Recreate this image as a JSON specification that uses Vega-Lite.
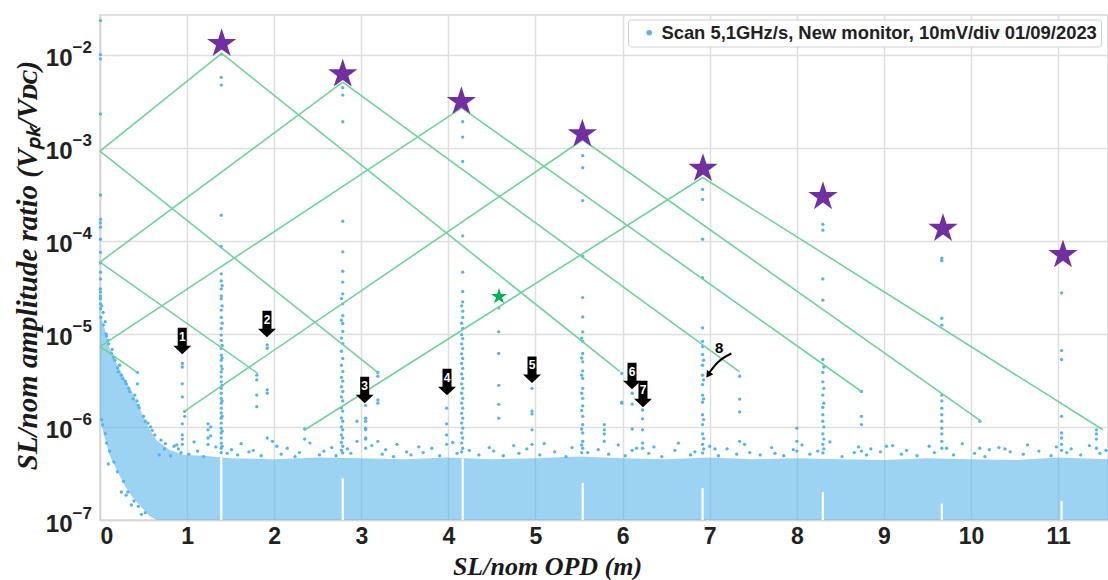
{
"$schema": "https://vega.github.io/schema/vega-lite/v6.json",
"width": 1008, "height": 505,
"autosize": {"type": "none"},
"padding": {"left": 100, "top": 15, "right": 0, "bottom": 60},
"background": "white",
"config": {
  "view": {"stroke": "#d6d6d6", "strokeWidth": 1.5},
  "axis": {"gridColor": "#dedede", "gridWidth": 1.5, "domainColor": "#d6d6d6", "domainWidth": 1.5, "ticks": false,
    "labelFont": "Liberation Sans", "labelFontWeight": "bold", "labelColor": "#222222",
    "titleFont": "Liberation Serif", "titleFontWeight": "bold", "titleFontStyle": "italic", "titleColor": "#1a1a1a", "titleFontSize": 29}
},
"resolve": {"axis": {"y": "independent"}},
"datasets": {
  "band": [
    {"x":0,"y":1.64e-5,"y2":1.24e-6},{"x":0.054,"y":1.14e-5,"y2":7.6e-7},{"x":0.111,"y":6.95e-6,"y2":4.9e-7},
    {"x":0.192,"y":4.81e-6,"y2":3.46e-7},{"x":0.284,"y":3.32e-6,"y2":2.33e-7},{"x":0.375,"y":2.3e-6,"y2":1.74e-7},
    {"x":0.479,"y":1.41e-6,"y2":1.36e-7},{"x":0.571,"y":9.3e-7,"y2":1.1e-7},{"x":0.651,"y":7.2e-7,"y2":1e-7},
    {"x":0.8,"y":5.66e-7,"y2":1e-7},{"x":0.97,"y":5.0e-7,"y2":1e-7},{"x":1.2,"y":4.9e-7,"y2":1e-7},
    {"x":1.5,"y":4.6e-7,"y2":1e-7},{"x":2.0,"y":4.5e-7,"y2":1e-7},{"x":2.5,"y":4.7e-7,"y2":1e-7},
    {"x":3.0,"y":4.6e-7,"y2":1e-7},{"x":3.5,"y":4.5e-7,"y2":1e-7},{"x":4.0,"y":4.7e-7,"y2":1e-7},
    {"x":4.5,"y":4.5e-7,"y2":1e-7},{"x":5.0,"y":4.6e-7,"y2":1e-7},{"x":5.5,"y":4.8e-7,"y2":1e-7},
    {"x":6.0,"y":4.6e-7,"y2":1e-7},{"x":6.5,"y":4.5e-7,"y2":1e-7},{"x":7.0,"y":4.7e-7,"y2":1e-7},
    {"x":7.5,"y":4.5e-7,"y2":1e-7},{"x":8.0,"y":4.6e-7,"y2":1e-7},{"x":8.5,"y":4.5e-7,"y2":1e-7},
    {"x":9.0,"y":4.4e-7,"y2":1e-7},{"x":9.5,"y":4.6e-7,"y2":1e-7},{"x":10.0,"y":4.5e-7,"y2":1e-7},
    {"x":10.5,"y":4.4e-7,"y2":1e-7},{"x":11.0,"y":4.7e-7,"y2":1e-7},{"x":11.573,"y":4.5e-7,"y2":1e-7}
  ],
  "gaps": [
    {"x":1.392,"y":5.3e-7,"y2":1e-7},{"x":2.787,"y":2.8e-7,"y2":1e-7},{"x":4.164,"y":4.6e-7,"y2":1e-7},
    {"x":5.542,"y":2.5e-7,"y2":1e-7},{"x":6.918,"y":2.2e-7,"y2":1e-7},{"x":8.299,"y":2.0e-7,"y2":1e-7},
    {"x":9.665,"y":1.5e-7,"y2":1e-7},{"x":11.04,"y":1.6e-7,"y2":1e-7}
  ],
  "pts": [
    {"x":0.005,"y":[2.32e-2,1.0e-2,9.0e-3,2.3e-3,3.1e-4,1.7e-4,1.55e-4,1.4e-4,1.04e-4,7.5e-5,5.8e-5,4.6e-5,3.89e-5,3.04e-5,2.82e-5,2.55e-5,2.38e-5,2.1e-5,1.86e-5]},
    {"x":0.02,"y":[2.0e-5,1.2e-6]},{"x":0.035,"y":[1.7e-5]},{"x":0.06,"y":[1.35e-5]},{"x":0.075,"y":[9.5e-6,6.7e-7]},
    {"x":0.095,"y":[8.5e-6,4.0e-7]},{"x":0.13,"y":[6.2e-6]},{"x":0.155,"y":[5.6e-6]},{"x":0.2,"y":[4.3e-6]},
    {"x":0.225,"y":[4.6e-6]},{"x":0.245,"y":[3.6e-6,2.0e-7]},{"x":0.3,"y":[2.9e-6,1.85e-7]},{"x":0.33,"y":[2.6e-6]},
    {"x":0.36,"y":[1.45e-7]},{"x":0.4,"y":[2.2e-6]},{"x":0.425,"y":[1.9e-6]},{"x":0.43,"y":[3.86e-6,2.9e-6]},
    {"x":0.45,"y":[1.6e-6]},{"x":0.475,"y":[1.15e-7]},{"x":0.5,"y":[1.3e-6]},{"x":0.55,"y":[1.1e-6]},
    {"x":0.6,"y":[9.2e-7]},{"x":0.63,"y":[8.2e-7]},{"x":0.7,"y":[7.2e-7]},{"x":0.75,"y":[6.6e-7]},
    {"x":0.85,"y":[6.2e-7]},{"x":0.9,"y":[5.8e-7]},
    {"x":0.945,"y":[4.81e-6,4.4e-6,2.9e-6,2.1e-6,1.08e-6,8.2e-7,7.4e-7,6.5e-7]},{"x":0.972,"y":[1.47e-6,1.3e-6]},
    {"x":1.24,"y":[1.08e-6,9.3e-7,7.6e-7,6.5e-7]},{"x":1.27,"y":[1.0e-6,8.0e-7]},
    {"x":1.392,"y":[1.01e-2,5.7e-3,4.7e-3,1.88e-4,8.7e-5,4.4e-5,3.7e-5,3.04e-5,2.55e-5,2.38e-5,1.8e-5,1.5e-5,1.14e-5,9.7e-6,8.5e-6,6.95e-6,5.9e-6,5.2e-6,4.5e-6,3.9e-6,3.45e-6,3.05e-6,2.6e-6,2.3e-6,2.03e-6,1.8e-6,1.59e-6,1.41e-6,1.24e-6,1.1e-6,9.7e-7,8.6e-7,7.6e-7,6.7e-7,5.9e-7,5.3e-7]},
    {"x":1.402,"y":[3.3e-5,2.0e-5,1.3e-5,7.5e-6,5.5e-6,4.2e-6,2.8e-6,1.9e-6,1.3e-6,9.0e-7,6.2e-7]},
    {"x":1.8,"y":[3.6e-6,3.2e-6,2.2e-6,1.65e-6]},{"x":1.92,"y":[7.6e-6,7.0e-6,2.5e-6,2.3e-6,7.6e-7]},
    {"x":1.98,"y":[7.0e-7]},{"x":2.35,"y":[9.5e-7,7.4e-7]},
    {"x":2.787,"y":[4.4e-3,3.67e-3,1.9e-3,1.62e-4,7.6e-5,4.7e-5,3.6e-5,2.69e-5,2.1e-5,1.57e-5,1.29e-5,1.06e-5,7.86e-6,5.43e-6,3.95e-6,3.1e-6,2.4e-6,1.9e-6,1.48e-6,1.15e-6,9.3e-7,7.6e-7,6.2e-7,5.26e-7]},
    {"x":2.772,"y":[2.4e-5,1.4e-5,9.0e-6,6.5e-6,4.6e-6,3.4e-6,2.7e-6,2.1e-6,1.6e-6,1.25e-6,1.0e-6,8.2e-7,6.8e-7,5.6e-7]},
    {"x":2.95,"y":[1.15e-6,7.0e-7]},{"x":3.05,"y":[1.7e-6,1.24e-6,1.15e-6,9.7e-7,9.3e-7,7.6e-7,7.4e-7,5.9e-7]},
    {"x":3.19,"y":[3.85e-6,3.5e-6,1.95e-6,1.8e-6,7.0e-7]},{"x":3.98,"y":[1.59e-6,1.08e-6,8.2e-7,6.5e-7]},
    {"x":4.164,"y":[1.9e-3,1.3e-3,7.1e-4,1.13e-4,4.6e-5,2.85e-5,2.2e-5,1.75e-5,1.5e-5,1.14e-5,8.9e-6,6.95e-6,5.43e-6,4.25e-6,3.32e-6,2.6e-6,2.03e-6,1.59e-6,1.24e-6,9.7e-7,7.6e-7,5.9e-7]},
    {"x":4.152,"y":[2.0e-5,1.3e-5,9.8e-6,7.8e-6,6.1e-6,4.8e-6,3.7e-6,2.9e-6,2.3e-6,1.8e-6,1.4e-6,1.1e-6,8.6e-7,6.7e-7,5.4e-7]},
    {"x":4.578,"y":[1.9e-5,1.05e-5,6.15e-6,2.8e-6,1.75e-6,1.24e-6]},{"x":4.96,"y":[2.6e-6,1.48e-6,1.38e-6,9.3e-7,6.5e-7]},
    {"x":5.542,"y":[8.2e-4,6.1e-4,2.7e-4,6.8e-5,2.45e-5,1.52e-5,1.05e-5,8.3e-6,6.15e-6,5.0e-6,4.0e-6,3.32e-6,2.6e-6,2.03e-6,1.68e-6,1.3e-6,1.06e-6,8.6e-7,7.0e-7,5.9e-7]},
    {"x":5.53,"y":[9.0e-6,5.5e-6,3.6e-6,2.3e-6,1.5e-6,9.5e-7,6.4e-7,5.3e-7]},
    {"x":5.79,"y":[1.06e-6,9.3e-7,8.4e-7,7.0e-7]},{"x":5.99,"y":[3.76e-6,1.85e-6,1.8e-6]},
    {"x":6.11,"y":[2.3e-6,1.76e-6,9.5e-7,5.6e-7]},{"x":6.23,"y":[1.52e-6,1.22e-6,9.3e-7,6.7e-7,5.9e-7]},
    {"x":6.918,"y":[3.56e-4,2.78e-4,1.04e-4,4.0e-5,1.16e-5,8.3e-6,7.3e-6,6.0e-6,4.6e-6,3.6e-6,2.85e-6,2.2e-6,1.84e-6,1.35e-6,1.06e-6,8.4e-7,6.5e-7,5.26e-7]},
    {"x":6.93,"y":[5.2e-6,3.2e-6,2.0e-6,1.2e-6,7.5e-7,5.8e-7]},
    {"x":7.06,"y":[5.8e-7]},{"x":7.344,"y":[3.5e-6,1.99e-6,1.45e-6,7.0e-7]},{"x":8.0,"y":[9.7e-7,7.0e-7,5.5e-7]},
    {"x":8.299,"y":[1.5e-4,1.3e-4,3.89e-5,2.3e-5,5.3e-6,3.85e-6,3.05e-6,2.2e-6,1.62e-6,1.35e-6,1.15e-6,8.4e-7,6.5e-7,5.26e-7]},
    {"x":8.31,"y":[4.4e-6,2.6e-6,1.8e-6,1.0e-6,7.4e-7,5.8e-7]},
    {"x":8.742,"y":[2.4e-6,1.3e-6,1.06e-6,5.5e-7]},{"x":9.03,"y":[6.2e-7]},
    {"x":9.665,"y":[6.5e-5,6.1e-5,1.47e-5,1.24e-5,2.2e-6,1.9e-6,1.59e-6,1.35e-6,1.15e-6,9.7e-7,8.4e-7,7.0e-7,5.9e-7]},
    {"x":10.1,"y":[1.15e-6,5.9e-7]},{"x":10.39,"y":[5.8e-7]},
    {"x":11.04,"y":[2.75e-5,6.6e-6,5.3e-6,1.3e-6,8.6e-7,7.6e-7,6.5e-7,5.6e-7]},
    {"x":11.44,"y":[9.3e-7,8.4e-7,7.4e-7,5.9e-7]}
  ],
  "fringe": [
    {"x":[0.01,0.04,0.07,0.1,0.14,0.17,0.21,0.26,0.29,0.34,0.38,0.44,0.52,0.58,
          0.03,0.06,0.11,0.16,0.2,0.27,0.32,0.39,0.44,0.52,
          0.68,0.74,0.81,0.88,0.93,1.02,1.08,1.12,1.19,1.33,1.46,1.51,1.58,1.62,1.71,
          1.76,1.85,2.03,2.08,2.15,2.24,2.29,2.41,2.52,2.57,2.66,2.71,2.84,2.88,3.12,
          3.24,3.28,3.37,3.41,3.52,3.57,3.66,3.71,3.81,3.9,4.05,4.1,4.24,4.35,4.47,
          4.52,4.63,4.75,4.81,4.9,5.05,5.1,5.22,5.35,5.42,5.6,5.72,5.84,5.95,6.03,
          6.16,6.3,6.36,6.45,6.6,6.64,6.78,6.83,7.0,7.1,7.2,7.31,7.4,7.46,7.58,
          7.71,7.75,7.85,7.96,8.06,8.15,8.24,8.38,8.52,8.66,8.71,8.8,8.85,8.96,9.1,
          9.2,9.26,9.38,9.52,9.58,9.72,9.8,9.9,10.04,10.16,10.21,10.32,10.45,10.6,10.65,
          10.78,10.92,10.98,11.1,11.15,11.26,11.36,11.48,11.55],
     "y":[1.5e-5,1.25e-5,1.0e-5,7.8e-6,6.8e-6,5.2e-6,3.9e-6,3.3e-6,3.1e-6,2.4e-6,2.0e-6,1.7e-6,1.15e-6,1.0e-6,
          1.05e-6,8.5e-7,5.5e-7,4.2e-7,3.3e-7,2.6e-7,2.0e-7,1.6e-7,1.4e-7,1.2e-7,
          5.0e-7,5.8e-7,4.9e-7,6.4e-7,5.3e-7,5.1e-7,6.9e-7,5.5e-7,4.8e-7,6.1e-7,5.2e-7,5.7e-7,5.0e-7,6.6e-7,5.4e-7,
          5.6e-7,4.9e-7,6.2e-7,5.1e-7,5.9e-7,4.8e-7,5.3e-7,6.7e-7,5.0e-7,5.5e-7,6.0e-7,4.9e-7,5.8e-7,5.2e-7,6.3e-7,
          5.1e-7,5.7e-7,4.8e-7,6.5e-7,5.4e-7,5.0e-7,6.1e-7,5.3e-7,5.9e-7,4.9e-7,6.8e-7,5.2e-7,5.6e-7,5.0e-7,6.0e-7,
          5.5e-7,4.9e-7,6.3e-7,5.2e-7,5.8e-7,5.0e-7,6.6e-7,5.4e-7,4.8e-7,6.0e-7,5.3e-7,5.7e-7,5.1e-7,6.4e-7,4.9e-7,
          5.9e-7,5.2e-7,6.1e-7,4.8e-7,5.6e-7,6.7e-7,5.0e-7,5.4e-7,6.2e-7,4.9e-7,5.8e-7,5.1e-7,6.5e-7,5.3e-7,5.0e-7,
          6.0e-7,5.2e-7,4.9e-7,5.7e-7,6.4e-7,5.1e-7,5.5e-7,6.9e-7,4.8e-7,5.3e-7,6.1e-7,5.0e-7,5.8e-7,5.4e-7,6.3e-7,
          5.1e-7,5.6e-7,4.9e-7,6.2e-7,5.3e-7,5.9e-7,5.0e-7,6.6e-7,5.2e-7,4.8e-7,5.7e-7,6.0e-7,5.4e-7,5.1e-7,6.4e-7,
          5.5e-7,4.9e-7,6.1e-7,5.3e-7,5.8e-7,5.0e-7,6.3e-7,5.2e-7,5.6e-7]}
  ],
  "lines": [
    {"id":"L1","x":0,"y":9.2e-4},{"id":"L1","x":1.397,"y":1.03e-2},
    {"id":"L2","x":0,"y":5.9e-5},{"id":"L2","x":2.787,"y":5.06e-3},
    {"id":"L3","x":0,"y":7.3e-6},{"id":"L3","x":4.153,"y":2.67e-3},
    {"id":"L4","x":0.972,"y":1.476e-6},{"id":"L4","x":5.542,"y":1.216e-3},
    {"id":"L5","x":2.35,"y":9.27e-7},{"id":"L5","x":6.92,"y":4.78e-4},
    {"id":"D1","x":0,"y":9.2e-4},{"id":"D1","x":3.188,"y":3.86e-6},
    {"id":"D2","x":0,"y":5.9e-5},{"id":"D2","x":1.811,"y":3.76e-6},
    {"id":"D3","x":0,"y":7.3e-6},{"id":"D3","x":0.429,"y":3.86e-6},
    {"id":"S1","x":1.397,"y":1.03e-2},{"id":"S1","x":5.967,"y":3.95e-6},
    {"id":"S2","x":2.787,"y":5.06e-3},{"id":"S2","x":7.344,"y":3.9e-6},
    {"id":"S3","x":4.153,"y":2.67e-3},{"id":"S3","x":8.742,"y":2.4e-6},
    {"id":"S4","x":5.542,"y":1.216e-3},{"id":"S4","x":10.119,"y":1.146e-6},
    {"id":"S5","x":6.92,"y":4.78e-4},{"id":"S5","x":11.515,"y":9.33e-7}
  ],
  "stars": [
    {"x":1.397,"y":0.0131},{"x":2.787,"y":6.17e-3},{"x":4.149,"y":3.12e-3},{"x":5.538,"y":1.40e-3},
    {"x":6.923,"y":5.96e-4},{"x":8.301,"y":2.97e-4},{"x":9.679,"y":1.35e-4},{"x":11.056,"y":7.06e-5}
  ],
  "gstar": [{"x":4.581,"y":2.52e-5}],
  "arrows": [
    {"n":"1","x":0.944,"y":9.33e-6},{"n":"2","x":1.917,"y":1.42e-5},{"n":"3","x":3.039,"y":2.77e-6},
    {"n":"4","x":3.984,"y":3.38e-6},{"n":"5","x":4.96,"y":4.58e-6},{"n":"6","x":6.108,"y":3.92e-6},
    {"n":"7","x":6.234,"y":2.51e-6}
  ],
  "curve8": [{"x":7.249,"y":6.15e-6},{"x":7.091,"y":4.92e-6},{"x":6.989,"y":3.76e-6}],
  "head8": [{"x":6.983,"y":3.62e-6}],
  "label8": [{"n":"8","x":7.109,"y":7.13e-6}]
},
"encoding": {
  "x": {"field": "x", "type": "quantitative",
    "scale": {"domain": [0, 11.573], "nice": false, "zero": false},
    "axis": {"grid": true, "values": [0,1,2,3,4,5,6,7,8,9,10,11], "labelFontSize": 23, "labelPadding": 5,
      "title": "SL/nom OPD (m)", "titleFontSize": 26, "titleX": 447, "titleY": 54, "titleAlign": "center", "titleBaseline": "alphabetic"}},
  "y": {"field": "y", "type": "quantitative",
    "scale": {"type": "log", "domain": [1e-7, 0.02661], "nice": false}, "axis": null}
},
"layer": [
  {"data": {"name": "band"}, "mark": {"type": "area", "color": "#56B4E9", "opacity": 0.58},
   "encoding": {
     "y": {"field": "y", "type": "quantitative", "scale": {"type": "log", "domain": [1e-7, 0.02661], "nice": false},
       "axis": {"orient": "left", "grid": true, "values": [1e-7,1e-6,1e-5,1e-4,1e-3,1e-2], "labelFontSize": 24, "labelPadding": 28, "labelOffset": 4,
         "labelExpr": "'10'",
         "title": "SL/nom amplitude ratio (Vₚₖ/Vᴅᴄ)", "titleX": -73, "titleY": 250, "titleAngle": -90, "titleAlign": "center", "titleBaseline": "middle"}},
     "y2": {"field": "y2"}}},
  {"data": {"name": "gaps"}, "mark": {"type": "rule", "color": "white", "strokeWidth": 2.2},
   "encoding": {
     "y": {"field": "y", "type": "quantitative", "scale": {"type": "log", "domain": [1e-7, 0.02661], "nice": false},
       "axis": {"orient": "left", "grid": false, "domain": false, "values": [1e-7,1e-6,1e-5,1e-4,1e-3,1e-2], "labelFontSize": 17, "labelPadding": 28, "labelAlign": "left", "labelOffset": -7,
         "labelExpr": "datum.value > 5e-3 ? '−2' : datum.value > 5e-4 ? '−3' : datum.value > 5e-5 ? '−4' : datum.value > 5e-6 ? '−5' : datum.value > 5e-7 ? '−6' : '−7'",
         "title": null}},
     "y2": {"field": "y2"}}},
  {"data": {"name": "pts"}, "transform": [{"flatten": ["y"]}],
   "mark": {"type": "point", "filled": true, "size": 11, "opacity": 1},
   "encoding": {"color": {"datum": "Scan 5,1GHz/s, New monitor, 10mV/div 01/09/2023", "type": "nominal",
     "scale": {"range": ["#56B4E9"]},
     "legend": {"title": null, "orient": "none", "legendX": 528, "legendY": 4.5, "direction": "vertical",
       "fillColor": "white", "strokeColor": "#cfcfcf", "cornerRadius": 3, "padding": 4,
       "symbolType": "circle", "symbolSize": 30, "symbolOffset": 8, "symbolStrokeWidth": 0,
       "labelFont": "Liberation Sans", "labelFontSize": 18.4, "labelFontWeight": "bold", "labelColor": "#222222",
       "labelOffset": 3, "labelLimit": 700}}}},
  {"data": {"name": "fringe"}, "transform": [{"flatten": ["x", "y"]}],
   "mark": {"type": "point", "filled": true, "size": 11, "opacity": 1, "color": "#56B4E9"}},
  {"data": {"name": "lines"}, "mark": {"type": "line", "color": "#72d19b", "strokeWidth": 1.6}, "encoding": {"detail": {"field": "id"}}},
  {"data": {"name": "stars"}, "mark": {"type": "point", "filled": true, "opacity": 1, "color": "#7030a0", "size": 950,
     "shape": "M0,-1L0.2245,-0.309L0.9511,-0.309L0.3633,0.118L0.5878,0.809L0,0.382L-0.5878,0.809L-0.3633,0.118L-0.9511,-0.309L-0.2245,-0.309Z"}},
  {"data": {"name": "gstar"}, "mark": {"type": "point", "filled": true, "opacity": 1, "color": "#00b050", "size": 280,
     "shape": "M0,-1L0.2245,-0.309L0.9511,-0.309L0.3633,0.118L0.5878,0.809L0,0.382L-0.5878,0.809L-0.3633,0.118L-0.9511,-0.309L-0.2245,-0.309Z"}},
  {"data": {"name": "arrows"}, "mark": {"type": "point", "filled": true, "opacity": 1, "color": "black", "size": 324,
     "shape": "M-0.5,-1L0.5,-1L0.5,1L1,1L0,1.95L-1,1L-0.5,1Z"}},
  {"data": {"name": "arrows"}, "mark": {"type": "text", "color": "white", "font": "Liberation Sans", "fontWeight": "bold", "fontSize": 12, "baseline": "middle", "align": "center"},
   "encoding": {"text": {"field": "n"}}},
  {"data": {"name": "curve8"}, "mark": {"type": "line", "color": "black", "strokeWidth": 2, "interpolate": "monotone"}, "encoding": {}},
  {"data": {"name": "head8"}, "mark": {"type": "point", "filled": true, "opacity": 1, "color": "black", "size": 60, "shape": "triangle-down", "angle": 34}},
  {"data": {"name": "label8"}, "mark": {"type": "text", "color": "black", "font": "Liberation Sans", "fontWeight": "bold", "fontSize": 15, "baseline": "middle", "align": "center"},
   "encoding": {"text": {"field": "n"}}}
]
}
